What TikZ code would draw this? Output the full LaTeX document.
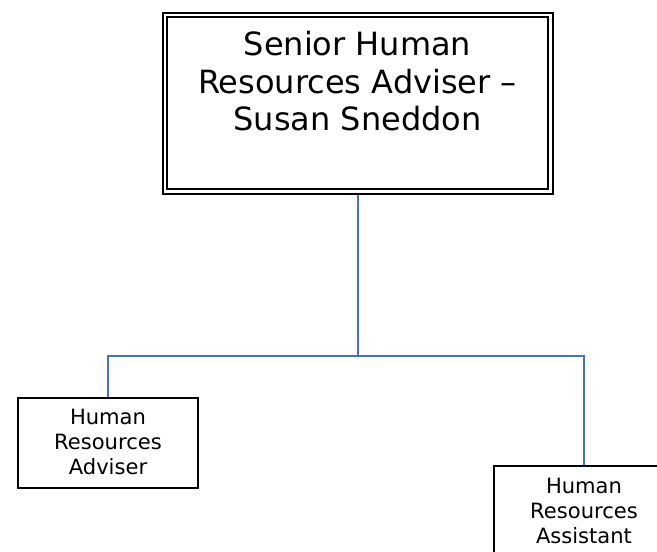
\documentclass[tikz,border=0pt]{standalone}
\usepackage{fontspec}
\setmainfont{DejaVu Sans}
\definecolor{connblue}{HTML}{4472C4}
\tikzset{
  px/.style={x=0.75pt,y=-0.75pt},
  seniorbox/.style={draw=black, line width=1.4pt, double=white, double distance=1.9pt, fill=white,
    minimum width=385.5*0.75pt, minimum height=176.5*0.75pt, inner sep=0pt},
  staffbox/.style={draw=black, line width=1.4pt, fill=white,
    minimum width=180.6*0.75pt, minimum height=89.9*0.75pt, inner sep=0pt},
  bigtext/.style={font=\fontsize{24}{28.1}\selectfont, align=center, inner sep=0pt, anchor=north},
  smalltext/.style={font=\fontsize{15.8}{18.75}\selectfont, align=center, inner sep=0pt, anchor=north},
  conn/.style={draw=connblue, line width=1.1pt}
}
\begin{document}
\begin{tikzpicture}[px]
\useasboundingbox (0,0) rectangle (657,552);
\coordinate (junction) at (358,356);
\coordinate (seniorbottom) at (358,194);
% connectors
\draw[conn] (seniorbottom) -- (junction);
\draw[conn] (junction) -| (108,397.7) coordinate (advtop);
\draw[conn] (junction) -| (584,466.2) coordinate (asstop);
% boxes
\node[seniorbox] (senior) at (357.75,103.25) {};
\node[bigtext] (seniortext) at (357.5,31.2) {Senior Human\\Resources Adviser –\\Susan Sneddon};
\node[staffbox] (adviser) at (108,442.65) {};
\node[smalltext] (advisertext) at (108,409) {Human\\Resources\\Adviser};
\node[staffbox] (assistant) at (584,511.15) {};
\node[smalltext] (assistanttext) at (584,477.5) {Human\\Resources\\Assistant};
\end{tikzpicture}
\end{document}
